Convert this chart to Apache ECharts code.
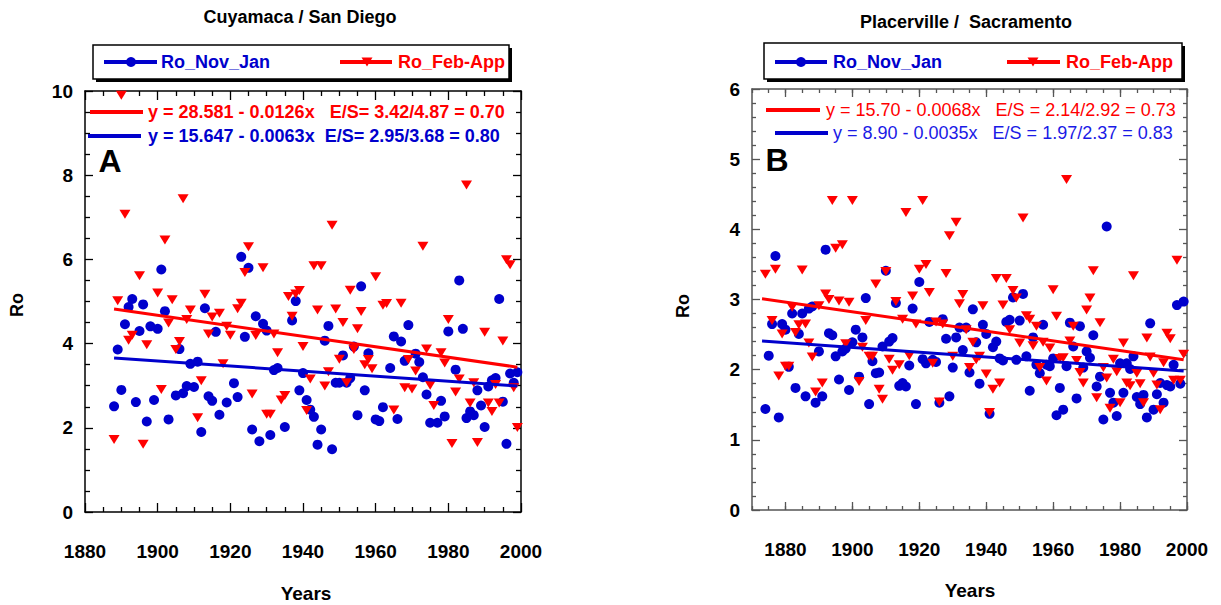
<!DOCTYPE html>
<html><head><meta charset="utf-8">
<script src="https://cdn.jsdelivr.net/npm/echarts@6/dist/echarts.min.js"></script>
<style>html,body{margin:0;padding:0;background:#fff}#c{width:1221px;height:605px}</style>
</head><body><div id="c"></div>
<script>
// ---------- Panel A: Cuyamaca / San Diego ----------
const cuyYearsNovJan = [1888,1889,1890,1891,1892,1893,1894,1895,1896,1897,1898,1899,1900,1901,1902,1903,1905,1906,1907,1908,1909,1910,1911,1912,1913,1914,1915,1916,1917,1919,1921,1922,1923,1924,1925,1926,1927,1928,1929,1930,1931,1932,1933,1935,1937,1938,1939,1940,1941,1942,1943,1944,1945,1946,1947,1948,1949,1950,1951,1952,1953,1954,1955,1956,1957,1958,1960,1961,1962,1964,1965,1966,1967,1968,1969,1971,1972,1973,1974,1975,1977,1978,1979,1980,1982,1983,1984,1985,1986,1987,1988,1989,1990,1991,1992,1993,1994,1995,1996,1997,1998,1999];
const cuyNovJan = [2.51,3.86,2.90,4.46,4.87,5.06,2.61,4.30,4.93,2.15,4.41,2.66,4.35,5.76,4.77,2.20,2.77,3.87,2.82,2.99,3.52,2.97,3.57,1.90,4.84,2.75,2.64,4.28,2.31,2.60,3.06,2.73,6.06,4.16,5.80,1.96,4.65,1.68,4.47,4.31,1.83,3.37,3.42,2.02,4.55,5.01,2.89,3.30,2.66,2.43,2.26,1.60,1.96,4.07,4.42,1.49,3.07,3.07,3.72,3.07,3.18,3.93,2.30,5.36,2.89,3.77,2.20,2.16,2.49,3.42,4.17,2.21,4.05,3.59,4.44,3.76,3.56,3.20,2.79,2.12,2.12,2.64,2.27,4.29,3.38,5.50,4.35,2.23,2.39,2.30,2.89,2.53,2.02,2.98,3.13,3.18,5.06,2.62,1.62,3.29,3.07,3.32];
const cuyYearsFebApr = [1888,1889,1890,1891,1892,1893,1895,1896,1897,1900,1901,1902,1903,1904,1905,1906,1907,1908,1909,1911,1912,1913,1914,1915,1917,1918,1919,1920,1922,1923,1924,1925,1926,1927,1929,1930,1931,1932,1933,1934,1935,1936,1937,1938,1939,1940,1941,1942,1943,1944,1945,1946,1947,1948,1949,1950,1951,1952,1953,1954,1955,1956,1957,1958,1959,1960,1962,1963,1965,1967,1968,1969,1970,1971,1973,1974,1975,1976,1978,1979,1980,1981,1982,1983,1985,1986,1987,1988,1990,1991,1992,1993,1994,1995,1996,1997,1998,1999];
const cuyFebApr = [1.72,5.02,9.90,7.07,4.08,4.20,5.61,1.61,3.97,5.20,2.91,6.46,4.49,5.04,3.86,4.05,7.44,4.57,4.80,2.24,3.12,5.17,4.23,4.63,4.72,3.52,4.41,4.20,4.83,4.96,5.69,6.30,2.80,4.19,5.80,2.32,2.32,4.23,3.78,2.66,2.77,5.12,4.65,5.18,5.26,3.93,2.41,3.16,5.85,4.80,5.85,2.99,3.33,6.81,4.82,3.63,4.50,3.07,5.27,3.86,4.35,4.76,3.50,3.62,3.40,5.59,4.91,4.95,2.42,4.96,2.95,3.62,2.92,3.35,6.31,3.87,3.01,2.53,3.78,3.54,4.57,1.63,2.85,3.16,7.77,2.59,3.07,1.65,4.27,2.59,2.39,3.03,2.59,4.06,5.99,5.87,2.95,2.01];
const cuyTrendNovJan = [[1888, 3.66], [1999, 2.99]];
const cuyTrendFebApr = [[1888, 4.82], [1999, 3.44]];

// ---------- Panel B: Placerville / Sacramento ----------
const plcYearsNovJan = [1874,1875,1876,1877,1878,1879,1880,1881,1882,1883,1884,1885,1886,1887,1888,1889,1890,1891,1892,1893,1894,1895,1896,1897,1898,1899,1900,1901,1902,1903,1904,1905,1906,1907,1908,1909,1910,1911,1912,1913,1914,1915,1916,1917,1918,1919,1920,1921,1922,1923,1924,1925,1926,1927,1928,1929,1930,1931,1932,1933,1934,1935,1936,1937,1938,1939,1940,1941,1942,1943,1944,1945,1946,1947,1948,1949,1950,1951,1952,1953,1954,1955,1956,1957,1958,1959,1960,1961,1962,1963,1964,1965,1966,1967,1968,1969,1970,1971,1972,1973,1974,1975,1976,1977,1978,1979,1980,1981,1982,1983,1984,1985,1986,1987,1988,1989,1990,1991,1992,1993,1994,1995,1996,1997,1998,1999];
const plcNovJan = [1.44,2.20,2.65,3.62,1.32,2.65,2.57,2.04,2.80,1.74,2.51,2.80,1.62,2.87,2.90,1.53,2.26,1.62,3.71,2.52,2.49,2.19,1.86,2.26,2.30,1.71,2.39,2.57,1.90,2.46,3.02,1.51,2.12,1.95,1.96,2.33,3.41,2.40,2.45,2.95,1.77,1.81,1.76,2.06,2.87,1.51,3.25,2.15,2.09,2.68,2.14,2.11,1.53,2.72,2.44,1.62,2.03,2.46,2.60,2.28,2.60,1.96,2.86,2.39,1.80,2.64,2.51,1.37,2.32,2.40,2.16,2.13,2.68,2.71,3.03,2.14,2.70,3.08,2.19,1.70,2.46,2.07,1.95,2.64,2.07,2.05,2.16,1.35,1.74,1.43,2.05,2.67,2.33,1.59,2.62,2.03,2.26,2.17,2.49,1.76,1.90,1.29,4.04,1.67,1.53,1.34,2.09,1.67,2.09,2.01,2.19,1.61,1.51,1.64,1.32,2.66,1.43,1.65,1.81,1.53,1.78,1.76,2.07,2.92,1.80,2.97];
const plcYearsFebApr = [1874,1876,1877,1878,1879,1880,1881,1882,1883,1884,1885,1886,1887,1888,1889,1890,1891,1892,1893,1894,1895,1896,1897,1898,1899,1900,1902,1903,1904,1905,1906,1907,1908,1909,1910,1911,1912,1913,1914,1915,1916,1917,1918,1919,1920,1921,1922,1923,1924,1925,1926,1927,1928,1929,1930,1931,1932,1933,1934,1935,1936,1937,1938,1939,1940,1941,1942,1943,1944,1945,1946,1947,1948,1949,1950,1951,1952,1953,1954,1955,1956,1957,1958,1959,1960,1961,1962,1963,1964,1965,1966,1967,1968,1969,1970,1971,1972,1973,1974,1975,1976,1977,1978,1979,1980,1981,1982,1983,1984,1985,1986,1987,1988,1989,1990,1991,1992,1993,1994,1995,1996,1997,1998,1999];
const plcFebApr = [3.36,2.70,3.43,1.91,2.51,2.05,2.05,2.89,2.53,2.64,3.42,2.65,2.38,2.18,1.68,2.91,1.81,3.08,3.00,4.41,3.73,2.98,3.78,2.37,2.96,4.41,1.83,2.32,2.70,2.19,2.19,3.22,1.72,1.58,3.40,2.15,1.99,2.97,2.07,2.72,4.24,2.20,3.05,2.65,3.43,4.41,3.50,3.10,2.09,2.68,1.54,2.65,3.37,3.91,2.19,4.10,2.94,3.07,2.57,2.03,2.39,2.14,2.19,2.91,1.94,1.39,1.72,3.30,1.81,2.92,3.30,2.57,3.13,3.02,2.38,4.16,2.77,2.72,2.34,2.62,2.03,2.39,1.84,2.31,3.14,2.76,2.16,2.17,4.71,2.41,2.62,2.13,1.96,1.81,2.85,3.02,3.41,1.60,2.67,2.03,1.88,1.45,2.15,1.97,1.53,2.38,1.81,1.77,3.34,1.95,1.80,1.53,2.45,2.18,1.95,1.78,1.43,2.10,2.52,2.44,1.85,3.56,1.85,2.22];
const plcTrendNovJan = [[1873, 2.41], [1999, 1.98]];
const plcTrendFebApr = [[1873, 3.01], [1999, 2.14]];

const yearTickLabels = [1880, 1900, 1920, 1940, 1960, 1980, 2000];

const FONT = '"Liberation Sans", Arial, Helvetica, sans-serif';
const BLUE = '#0000cc';
const RED = '#ff0000';
function pairs(xs, ys) { return xs.map((x, i) => [x, ys[i]]); }

const chart = echarts.init(document.getElementById('c'), null, { renderer: 'svg' });

function lbl(extra) {
  return Object.assign({ color: '#000', fontFamily: FONT, fontWeight: 'bold', fontSize: 19,
    formatter: function (v) { return String(v); } }, extra);
}

const TICK_A = { color: '#000', width: 1.3 };
const TICK_B = { color: '#555', width: 1.3 };

const xAxes = [
  // panel A bottom / top
  { gridIndex: 0, type: 'value', position: 'bottom', min: 1880, max: 2000, interval: 20,
    axisLine: { show: true, onZero: false, lineStyle: { color: '#000', width: 1.5 } },
    axisTick: { show: true, inside: true, length: 9, lineStyle: TICK_A },
    minorTick: { show: true, splitNumber: 4, length: 5, lineStyle: TICK_A },
    axisLabel: lbl({ margin: 30 }), splitLine: { show: false } },
  { gridIndex: 0, type: 'value', position: 'top', min: 1880, max: 2000, interval: 20,
    axisLine: { show: true, onZero: false, lineStyle: { color: '#000', width: 1.5 } },
    axisTick: { show: true, inside: true, length: 9, lineStyle: TICK_A },
    minorTick: { show: true, splitNumber: 4, length: 5, lineStyle: TICK_A },
    axisLabel: { show: false }, splitLine: { show: false } },
  // panel B bottom main
  { gridIndex: 1, type: 'value', position: 'bottom', min: 1870, max: 2000, interval: 10,
    axisLine: { show: true, onZero: false, lineStyle: { color: '#555', width: 1.5 } },
    axisTick: { show: true, inside: true, length: 8, customValues: yearTickLabels, lineStyle: TICK_B },
    axisLabel: lbl({ margin: 30, customValues: yearTickLabels }), splitLine: { show: false } },
  // panel B bottom minor
  { gridIndex: 1, type: 'value', position: 'bottom', min: 1870, max: 2000, interval: 5,
    axisLine: { show: false, onZero: false },
    axisTick: { show: true, inside: true, length: 4, lineStyle: TICK_B },
    axisLabel: { show: false }, splitLine: { show: false } },
  // panel B top main
  { gridIndex: 1, type: 'value', position: 'top', min: 1870, max: 2000, interval: 10,
    axisLine: { show: true, onZero: false, lineStyle: { color: '#555', width: 1.5 } },
    axisTick: { show: true, inside: true, length: 8, customValues: yearTickLabels, lineStyle: TICK_B },
    axisLabel: { show: false }, splitLine: { show: false } },
  // panel B top minor
  { gridIndex: 1, type: 'value', position: 'top', min: 1870, max: 2000, interval: 5,
    axisLine: { show: false, onZero: false },
    axisTick: { show: true, inside: true, length: 4, lineStyle: TICK_B },
    axisLabel: { show: false }, splitLine: { show: false } }
];

const yAxes = [
  { gridIndex: 0, type: 'value', position: 'left', min: 0, max: 10, interval: 2,
    axisLine: { show: true, onZero: false, lineStyle: { color: '#000', width: 1.5 } },
    axisTick: { show: true, inside: true, length: 8, lineStyle: TICK_A },
    minorTick: { show: true, splitNumber: 4, length: 5, lineStyle: TICK_A },
    axisLabel: lbl({ margin: 12, padding: [10, 0, 0, 0] }), splitLine: { show: false } },
  { gridIndex: 0, type: 'value', position: 'right', min: 0, max: 10, interval: 2,
    axisLine: { show: true, onZero: false, lineStyle: { color: '#000', width: 1.5 } },
    axisTick: { show: true, inside: true, length: 8, lineStyle: TICK_A },
    minorTick: { show: true, splitNumber: 4, length: 5, lineStyle: TICK_A },
    axisLabel: { show: false }, splitLine: { show: false } },
  { gridIndex: 1, type: 'value', position: 'left', min: 0, max: 6, interval: 1,
    axisLine: { show: true, onZero: false, lineStyle: { color: '#555', width: 1.5 } },
    axisTick: { show: true, inside: true, length: 8, lineStyle: TICK_B },
    minorTick: { show: true, splitNumber: 5, length: 4, lineStyle: TICK_B },
    axisLabel: lbl({ margin: 12, padding: [10, 0, 0, 0] }), splitLine: { show: false } },
  { gridIndex: 1, type: 'value', position: 'right', min: 0, max: 6, interval: 1,
    axisLine: { show: true, onZero: false, lineStyle: { color: '#555', width: 1.5 } },
    axisTick: { show: true, inside: true, length: 8, lineStyle: TICK_B },
    minorTick: { show: true, splitNumber: 5, length: 4, lineStyle: TICK_B },
    axisLabel: { show: false }, splitLine: { show: false } }
];

function scatterBlue(name, xi, yi, data) {
  return { type: 'scatter', name, xAxisIndex: xi, yAxisIndex: yi, data, symbol: 'circle', symbolSize: 10,
    itemStyle: { color: BLUE, opacity: 1 }, z: 2, silent: true };
}
function scatterRed(name, xi, yi, data) {
  return { type: 'scatter', name, xAxisIndex: xi, yAxisIndex: yi, data, symbol: 'triangle', symbolRotate: 180,
    symbolSize: [11, 9], itemStyle: { color: RED, opacity: 1 }, z: 3, silent: true };
}
function trend(name, xi, yi, data, color) {
  return { type: 'line', name, xAxisIndex: xi, yAxisIndex: yi, data, symbol: 'none',
    lineStyle: { color, width: 3 }, z: 4, silent: true };
}

function txt(text, x, y, opts) {
  const o = Object.assign({ size: 18, weight: 'bold', color: '#000', align: 'center', rot: 0 }, opts || {});
  return { type: 'text', x, y, rotation: o.rot, z: 100, silent: true,
    style: { text, x: 0, y: 0, fill: o.color, font: o.weight + ' ' + o.size + 'px ' + FONT,
      textAlign: o.align, textVerticalAlign: 'middle', align: o.align, verticalAlign: 'middle' } };
}
function seg(x1, x2, y, color, w) {
  return { type: 'line', z: 100, silent: true, shape: { x1, y1: y, x2, y2: y }, style: { stroke: color, lineWidth: w || 4 } };
}
function dot(cx, cy, color) {
  return { type: 'circle', z: 101, silent: true, shape: { cx, cy, r: 5 }, style: { fill: color } };
}
function tri(cx, cy, color) {
  return { type: 'polygon', z: 101, silent: true, shape: { points: [[cx - 5.5, cy - 4.5], [cx + 5.5, cy - 4.5], [cx, cy + 4.5]] }, style: { fill: color } };
}
function box(x, y, w, h) {
  return [
    { type: 'rect', z: 90, silent: true, shape: { x: x + 3, y: y + 3, width: w, height: h }, style: { fill: '#000' } },
    { type: 'rect', z: 91, silent: true, shape: { x, y, width: w, height: h }, style: { fill: '#fff', stroke: '#000', lineWidth: 1.5 } }
  ];
}

const NB3 = '\u00a0\u00a0\u00a0';
const NB2 = '\u00a0\u00a0';

const graphics = [].concat(
  [txt('Cuyamaca / San Diego', 300, 17),
   txt('Placerville /\u00a0 Sacramento', 966, 22)],
  box(93, 45, 416, 34),
  [seg(104, 157, 62, BLUE), dot(131, 62, BLUE), txt('Ro_Nov_Jan', 161, 62, { color: BLUE, align: 'left' }),
   seg(340, 392, 62, RED), tri(367, 62, RED), txt('Ro_Feb-App', 398, 62, { color: RED, align: 'left' })],
  box(764, 43, 418, 36),
  [seg(775, 827, 62, BLUE), dot(801, 62, BLUE), txt('Ro_Nov_Jan', 833, 62, { color: BLUE, align: 'left' }),
   seg(1007, 1060, 62, RED), tri(1033, 62, RED), txt('Ro_Feb-App', 1066, 62, { color: RED, align: 'left' })],
  [seg(90, 143, 112, RED), txt('y = 28.581 - 0.0126x' + NB3 + 'E/S= 3.42/4.87 = 0.70', 148, 112, { color: RED, align: 'left' }),
   seg(88, 141, 136, BLUE), txt('y = 15.647 - 0.0063x' + NB2 + 'E/S= 2.95/3.68 = 0.80', 148, 136, { color: BLUE, align: 'left' }),
   seg(766, 820, 110, RED), txt('y = 15.70 - 0.0068x' + NB3 + 'E/S = 2.14/2.92 = 0.73', 826, 110, { color: RED, align: 'left', weight: 'normal' }),
   seg(775, 828, 133, BLUE), txt('y = 8.90 - 0.0035x' + NB3 + 'E/S = 1.97/2.37 = 0.83', 833, 133, { color: '#1a1ae6', align: 'left', weight: 'normal' })],
  [txt('A', 110, 161, { size: 32 }), txt('B', 777, 160, { size: 32 }),
   txt('Ro', 17, 305, { rot: Math.PI / 2 }), txt('Ro', 683, 306, { rot: Math.PI / 2 }),
   txt('Years', 306, 593, { size: 19 }), txt('Years', 970, 590, { size: 19 })]
);

chart.setOption({
  animation: false,
  backgroundColor: '#fff',
  grid: [
    { left: 85, top: 91, width: 436, height: 421, show: false, containLabel: false },
    { left: 752, top: 89, width: 435, height: 421, show: false, containLabel: false }
  ],
  xAxis: xAxes,
  yAxis: yAxes,
  series: [
    scatterBlue('Ro_Nov_Jan', 0, 0, pairs(cuyYearsNovJan, cuyNovJan)),
    scatterRed('Ro_Feb-App', 0, 0, pairs(cuyYearsFebApr, cuyFebApr)),
    trend('Feb-App trend A', 0, 0, cuyTrendFebApr, RED),
    trend('Nov-Jan trend A', 0, 0, cuyTrendNovJan, BLUE),
    scatterBlue('Ro_Nov_Jan B', 2, 2, pairs(plcYearsNovJan, plcNovJan)),
    scatterRed('Ro_Feb-App B', 2, 2, pairs(plcYearsFebApr, plcFebApr)),
    trend('Feb-App trend B', 2, 2, plcTrendFebApr, RED),
    trend('Nov-Jan trend B', 2, 2, plcTrendNovJan, BLUE)
  ],
  graphic: graphics
});
</script>
</body></html>
